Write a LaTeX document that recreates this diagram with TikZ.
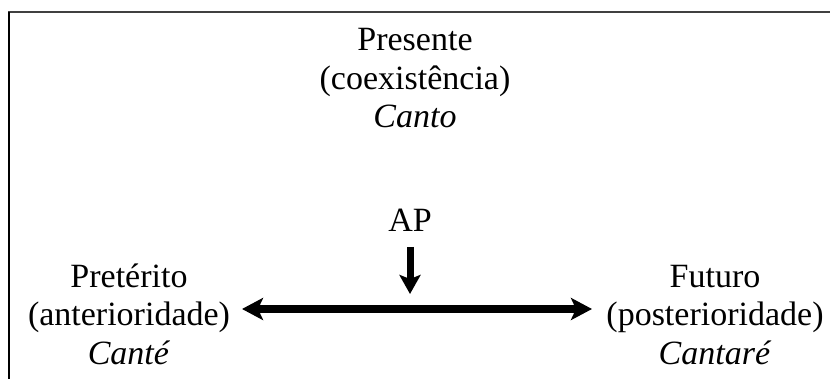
\documentclass[tikz,border=0pt]{standalone}
\usepackage{fontspec}
\setmainfont{Liberation Serif}
\usetikzlibrary{arrows.meta,positioning,calc}

\tikzset{
  label text/.style={align=center, font=\fontsize{34}{38.5}\selectfont, inner sep=0pt, anchor=base},
  big arrow/.style={line width=8pt, {Stealth[length=21pt, width=22pt, inset=5pt]}-{Stealth[length=21pt, width=22pt, inset=5pt]}},
}

\begin{document}
\begin{tikzpicture}[x=1pt, y=1pt, >=Stealth]
        \useasboundingbox (0,0) rectangle (830,-379);
        \draw[black!75, line width=2pt] (8,-12) -- (830,-12);
        \draw[black, line width=1.5pt] (9,-12) -- (9,-379);
        % base anchor sits on the last line
        \node[label text] (pres) at (415,-128) {Presente\\(coexistência)\\\textit{Canto}};
        \node[label text] (pret) at (129,-364) {Pretérito\\(anterioridade)\\\textit{Canté}};
        \node[label text] (fut) at (715,-364) {Futuro\\(posterioridade)\\\textit{Cantaré}};
        \node[label text] (ap) at (410,-232) {AP};
        \coordinate (left) at (242,-309);
        \coordinate (right) at (592,-309);
        \coordinate (apfoot) at (410,-294);
        \draw[big arrow] (left) -- (right);
        \draw[line width=7pt, -{Stealth[length=19pt, width=21pt, inset=4pt]}] ([yshift=-15pt]ap.base) -- (apfoot);
      \end{tikzpicture}
\end{document}
